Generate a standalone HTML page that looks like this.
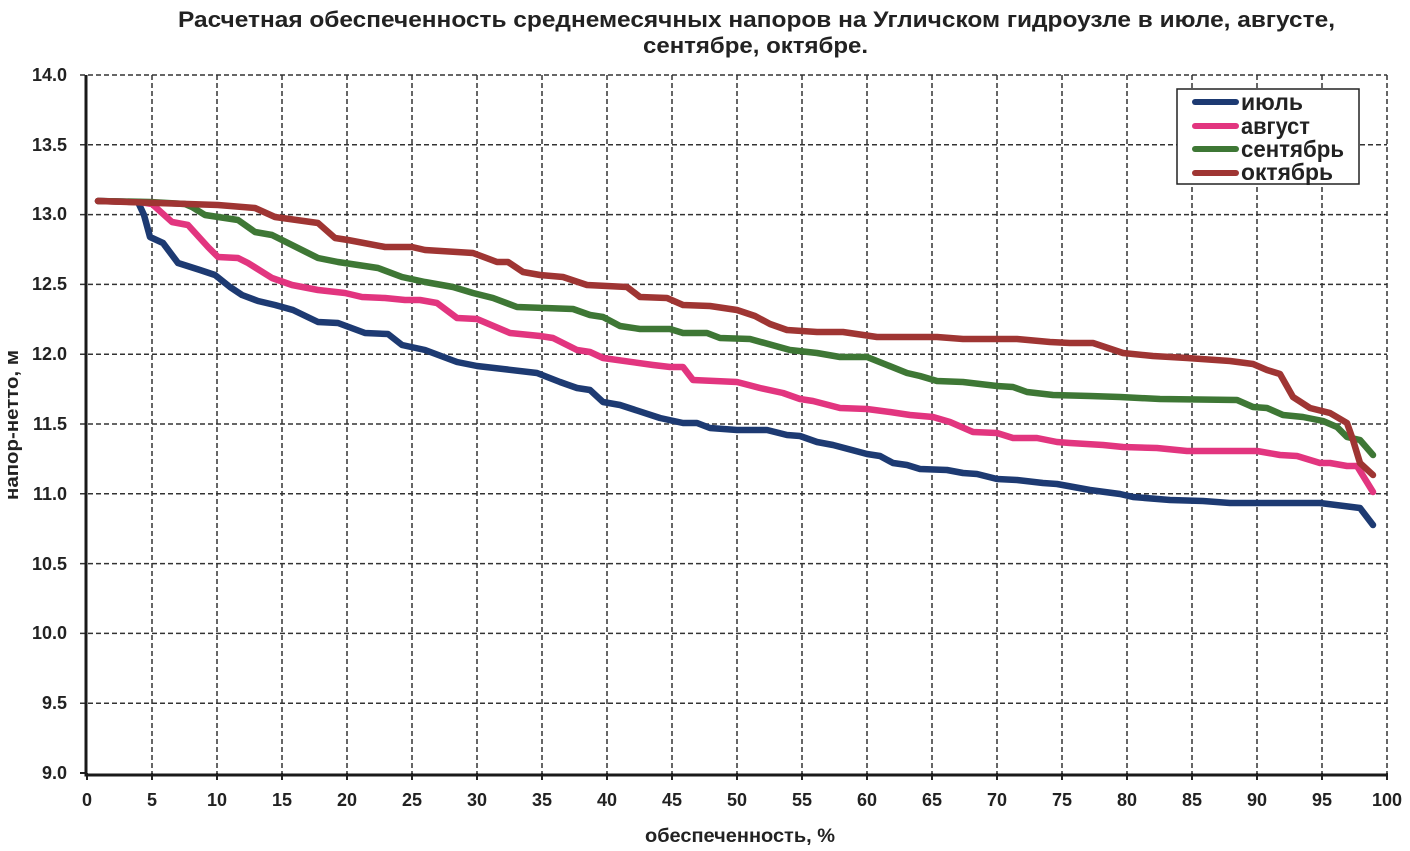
<!DOCTYPE html>
<html><head><meta charset="utf-8"><style>
html,body{margin:0;padding:0;background:#fff;}
svg{display:block;}
text{font-family:"Liberation Sans","DejaVu Sans",sans-serif;font-weight:bold;fill:#222;}
</style></head><body>
<svg width="1410" height="851" viewBox="0 0 1410 851" xmlns="http://www.w3.org/2000/svg">
<rect width="1410" height="851" fill="#fff"/>
<text x="178" y="27" font-size="22" textLength="1157" lengthAdjust="spacingAndGlyphs">Расчетная обеспеченность среднемесячных напоров на Угличском гидроузле в июле, августе,</text>
<text x="643" y="53" font-size="22" textLength="225" lengthAdjust="spacingAndGlyphs">сентябре, октябре.</text>
<g stroke="#333" stroke-width="1.5" stroke-dasharray="5,3" fill="none">
<path d="M152 75V773M217 75V773M282 75V773M347 75V773M412 75V773M477 75V773M542 75V773M607 75V773M672 75V773M737 75V773M802 75V773M867 75V773M932 75V773M997 75V773M1062 75V773M1127 75V773M1192 75V773M1257 75V773M1322 75V773M1387 75V773"/>
<path d="M80 703.2H1387M80 633.4H1387M80 563.6H1387M80 493.8H1387M80 424H1387M80 354.2H1387M80 284.4H1387M80 214.6H1387M80 144.8H1387M80 75H1387"/>
</g>
<g stroke="#222" stroke-width="2">
<path d="M87 773v7M152 773v7M217 773v7M282 773v7M347 773v7M412 773v7M477 773v7M542 773v7M607 773v7M672 773v7M737 773v7M802 773v7M867 773v7M932 773v7M997 773v7M1062 773v7M1127 773v7M1192 773v7M1257 773v7M1322 773v7M1387 773v7"/>
<path d="M80 773h7"/>
</g>
<path d="M86 75V775H1388" stroke="#1a1a1a" stroke-width="3" fill="none"/>
<g fill="none" stroke-width="6.5" stroke-linejoin="round" stroke-linecap="round">
<polyline stroke="#1d3a72" points="98,201 138,202 144,215 150,237 163,243 178,263 200,270 215,275 230,287 242,295 258,301 275,305 293,310 318,322 338,323 365,333 388,334 402,345 425,350 457,362 477,366 503,369 537,373 560,382 577,388 590,390 603,402 620,405 660,418 683,423 697,423 710,428 737,430 767,430 787,435 800,436 817,442 833,445 867,454 880,456 893,463 907,465 920,469 947,470 963,473 977,474 997,479 1017,480 1043,483 1057,484 1090,490 1120,494 1133,497 1170,500 1203,501 1230,503 1320,503 1360,508 1373,525"/>
<polyline stroke="#e2357f" points="98,201 140,202 152,204 172,222 188,225 208,247 218,257 238,258 248,263 272,278 292,285 318,290 345,293 362,297 385,298 405,300 420,300 437,303 457,318 477,319 510,333 540,336 553,338 577,350 590,352 603,358 653,365 670,367 683,367 693,380 737,382 760,388 783,393 800,399 813,401 840,408 867,409 890,412 910,415 933,417 950,422 973,432 997,433 1013,438 1037,438 1057,442 1070,443 1103,445 1123,447 1157,448 1187,451 1257,451 1280,455 1297,456 1320,463 1330,463 1347,466 1357,466 1373,492"/>
<polyline stroke="#3e7735" points="98,201 150,202 185,204 192,207 205,215 238,220 255,232 272,235 318,258 338,262 378,268 402,277 425,282 453,287 473,293 493,298 517,307 573,309 590,315 603,317 620,326 640,329 670,329 683,333 707,333 720,338 750,339 790,350 817,353 840,357 867,357 887,365 907,373 920,376 937,381 963,382 997,386 1013,387 1027,392 1053,395 1090,396 1120,397 1160,399 1237,400 1253,407 1267,408 1283,415 1303,417 1323,421 1337,427 1347,437 1360,440 1373,455"/>
<polyline stroke="#9f3533" points="98,201 218,205 255,208 275,217 318,223 335,238 348,240 385,247 412,247 425,250 473,253 497,262 508,262 523,272 540,275 563,277 587,285 627,287 640,297 667,298 683,305 710,306 737,310 755,316 770,324 787,330 817,332 843,332 877,337 937,337 963,339 1017,339 1050,342 1070,343 1093,343 1123,353 1153,356 1187,358 1230,361 1253,364 1267,370 1280,374 1293,397 1310,408 1330,413 1347,423 1353,440 1360,463 1373,475"/>
</g>
<g font-size="18" text-anchor="end">
<text x="67" y="81">14.0</text>
<text x="67" y="151">13.5</text>
<text x="67" y="220">13.0</text>
<text x="67" y="290">12.5</text>
<text x="67" y="360">12.0</text>
<text x="67" y="430">11.5</text>
<text x="67" y="500">11.0</text>
<text x="67" y="570">10.5</text>
<text x="67" y="639">10.0</text>
<text x="67" y="709">9.5</text>
<text x="67" y="779">9.0</text>
</g>
<g font-size="18" text-anchor="middle">
<text x="87" y="806">0</text><text x="152" y="806">5</text><text x="217" y="806">10</text><text x="282" y="806">15</text><text x="347" y="806">20</text><text x="412" y="806">25</text><text x="477" y="806">30</text><text x="542" y="806">35</text><text x="607" y="806">40</text><text x="672" y="806">45</text><text x="737" y="806">50</text><text x="802" y="806">55</text><text x="867" y="806">60</text><text x="932" y="806">65</text><text x="997" y="806">70</text><text x="1062" y="806">75</text><text x="1127" y="806">80</text><text x="1192" y="806">85</text><text x="1257" y="806">90</text><text x="1322" y="806">95</text><text x="1387" y="806">100</text>
</g>
<text x="645" y="842" font-size="19" textLength="190" lengthAdjust="spacingAndGlyphs">обеспеченность,  %</text>
<text transform="translate(18,500) rotate(-90)" font-size="18" textLength="150" lengthAdjust="spacingAndGlyphs">напор-нетто, м</text>
<rect x="1177" y="89" width="182" height="95" fill="#fff" stroke="#222" stroke-width="1.5"/>
<g stroke-width="6" stroke-linecap="round">
<line x1="1195" y1="102" x2="1236" y2="102" stroke="#1d3a72"/>
<line x1="1195" y1="126" x2="1236" y2="126" stroke="#e2357f"/>
<line x1="1195" y1="149" x2="1236" y2="149" stroke="#3e7735"/>
<line x1="1195" y1="173" x2="1236" y2="173" stroke="#9f3533"/>
</g>
<g font-size="23">
<text x="1241" y="110" textLength="62" lengthAdjust="spacingAndGlyphs">июль</text>
<text x="1241" y="134" textLength="69" lengthAdjust="spacingAndGlyphs">август</text>
<text x="1241" y="157" textLength="103" lengthAdjust="spacingAndGlyphs">сентябрь</text>
<text x="1241" y="180" textLength="92" lengthAdjust="spacingAndGlyphs">октябрь</text>
</g>
</svg>
</body></html>
